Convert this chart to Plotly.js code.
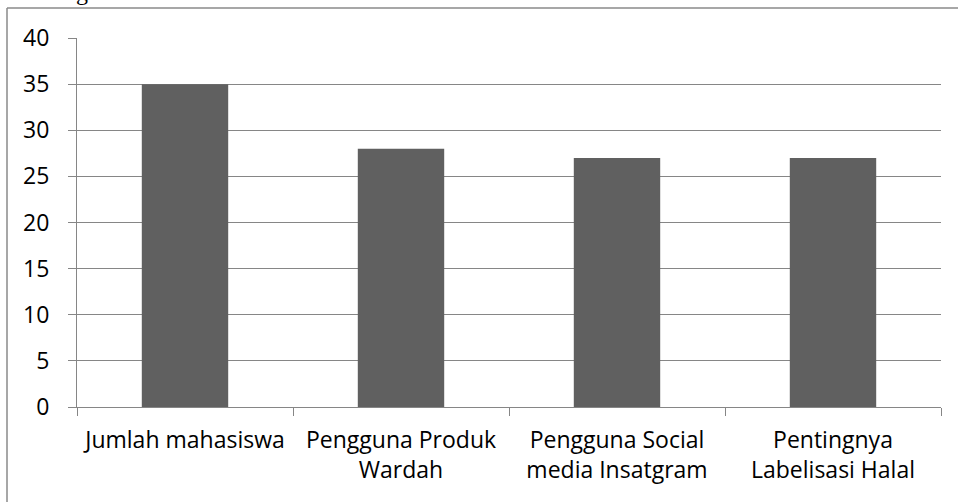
<!DOCTYPE html>
<html>
<head>
<meta charset="utf-8">
<script src="https://cdn.plot.ly/plotly-3.0.1.min.js"></script>
<style>html,body{margin:0;padding:0;background:#fff;}#chart{width:958px;height:502px;}</style>
</head>
<body>
<div id="chart"></div>
<script>
var categories = ["Jumlah mahasiswa", "Pengguna Produk<br>Wardah", "Pengguna Social<br>media Insatgram", "Pentingnya<br>Labelisasi Halal"];
var values = [35, 28, 27, 27];
var yTicks = [0, 5, 10, 15, 20, 25, 30, 35, 40];

var W = 958, H = 502;
var M = {l: 77, r: 17, t: 38, b: 95};
var pw = W - M.l - M.r, ph = H - M.t - M.b;
function px(x){ return (x - M.l) / pw; }
function py(y){ return (H - M.b - y) / ph; }

var font = "'Open Sans', 'Noto Sans', sans-serif";
var gray = "#868686";
var borderColor = "#8a8a8a";

var data = [{
  type: "bar",
  x: categories,
  y: values,
  marker: {color: "#606060"},
  hoverinfo: "x+y"
}];

var layout = {
  width: W, height: H,
  margin: M,
  paper_bgcolor: "#fff", plot_bgcolor: "#fff",
  bargap: 0.6,
  showlegend: false,
  font: {family: font, size: 23, color: "#000"},
  xaxis: {
    type: "category",
    tickson: "boundaries",
    ticks: "outside", ticklen: 8, tickcolor: gray, tickwidth: 1,
    showgrid: false,
    showline: true, linecolor: gray, linewidth: 1,
    tickfont: {family: font, size: 23, color: "#000"},
    ticklabelstandoff: 12
  },
  yaxis: {
    range: [0, 40],
    tickvals: yTicks,
    ticktext: yTicks.map(String),
    ticks: "outside", ticklen: 8, tickcolor: gray, tickwidth: 1,
    showgrid: true, gridcolor: gray, gridwidth: 1,
    showline: true, linecolor: gray, linewidth: 1,
    zeroline: false,
    tickfont: {family: font, size: 23, color: "#000"},
    ticklabelstandoff: 14
  },
  shapes: [
    {type: "line", xref: "paper", yref: "paper",
     x0: px(7), x1: px(W + 5), y0: py(8), y1: py(8),
     line: {color: borderColor, width: 1.5}, layer: "above"},
    {type: "line", xref: "paper", yref: "paper",
     x0: px(7), x1: px(7), y0: py(8), y1: py(H + 5),
     line: {color: borderColor, width: 1.5}, layer: "above"}
  ],
  annotations: [{
    text: "g", xref: "paper", yref: "paper",
    x: px(82), y: py(-8), xanchor: "center", yanchor: "middle",
    showarrow: false,
    font: {family: "'Liberation Serif', serif", size: 24, color: "#000"}
  }]
};

Plotly.newPlot("chart", data, layout, {displayModeBar: false, staticPlot: true});
</script>
</body>
</html>
